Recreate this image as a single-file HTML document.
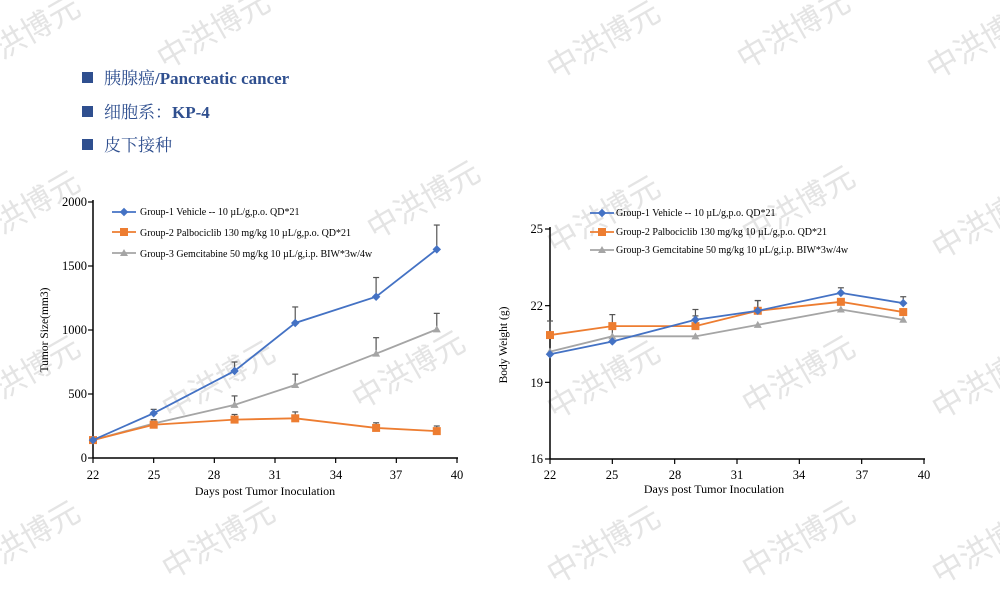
<!DOCTYPE html>
<html><head><meta charset="utf-8"><style>
html,body{margin:0;padding:0;background:#fff;}
body{width:1000px;height:562px;position:relative;overflow:hidden;font-family:"Liberation Serif","Noto Serif CJK SC",serif;}
.b{position:absolute;left:82px;color:#2f4f8f;font-size:17px;font-weight:bold;}
.b .sq{display:inline-block;width:11px;height:11px;background:#2f4f8f;margin-right:11px;vertical-align:1px;}
.b .cj{font-family:"Noto Serif CJK SC","Noto Sans CJK SC",serif;font-weight:normal;}
.wm{position:absolute;font-family:"Noto Sans CJK SC",sans-serif;font-size:31px;color:#e4e4e4;transform:rotate(-30deg);white-space:nowrap;}
svg{position:absolute;left:0;top:0;}
</style></head><body>
<div class="wm" style="left:-40px;top:10px">中洪博元</div>
<div class="wm" style="left:150px;top:5px">中洪博元</div>
<div class="wm" style="left:540px;top:15px">中洪博元</div>
<div class="wm" style="left:730px;top:5px">中洪博元</div>
<div class="wm" style="left:920px;top:15px">中洪博元</div>
<div class="wm" style="left:-40px;top:185px">中洪博元</div>
<div class="wm" style="left:360px;top:175px">中洪博元</div>
<div class="wm" style="left:540px;top:190px">中洪博元</div>
<div class="wm" style="left:735px;top:180px">中洪博元</div>
<div class="wm" style="left:925px;top:195px">中洪博元</div>
<div class="wm" style="left:-40px;top:350px">中洪博元</div>
<div class="wm" style="left:155px;top:355px">中洪博元</div>
<div class="wm" style="left:345px;top:345px">中洪博元</div>
<div class="wm" style="left:540px;top:355px">中洪博元</div>
<div class="wm" style="left:735px;top:350px">中洪博元</div>
<div class="wm" style="left:925px;top:355px">中洪博元</div>
<div class="wm" style="left:-40px;top:515px">中洪博元</div>
<div class="wm" style="left:155px;top:515px">中洪博元</div>
<div class="wm" style="left:540px;top:520px">中洪博元</div>
<div class="wm" style="left:735px;top:515px">中洪博元</div>
<div class="wm" style="left:925px;top:520px">中洪博元</div>

<div class="b" style="top:64px"><span class="sq"></span><span class="cj">胰腺癌</span>/Pancreatic cancer</div>
<div class="b" style="top:98px"><span class="sq"></span><span class="cj">细胞系：</span>KP-4</div>
<div class="b" style="top:131px"><span class="sq"></span><span class="cj">皮下接种</span></div>

<svg id="s" width="1000" height="562" font-family="Liberation Serif, serif" font-size="12">
<g fill="#000">
<text x="48" y="330" transform="rotate(-90 48 330)" font-size="11.5" text-anchor="middle">Tumor Size(mm3)</text>
<text x="265" y="495" text-anchor="middle" font-size="12">Days post Tumor Inoculation</text>
<text x="507" y="345" transform="rotate(-90 507 345)" font-size="11.5" text-anchor="middle">Body Weight (g)</text>
<text x="714" y="493" text-anchor="middle" font-size="12">Days post Tumor Inoculation</text>
<g text-anchor="end" font-size="12.5">
<text x="87" y="462">0</text><text x="87" y="398">500</text><text x="87" y="334">1000</text><text x="87" y="270">1500</text><text x="87" y="206">2000</text>
<text x="543" y="463">16</text><text x="543" y="387">19</text><text x="543" y="310">22</text><text x="543" y="233">25</text>
</g>
<g text-anchor="middle" font-size="12.5">
<text x="93" y="479">22</text><text x="154" y="479">25</text><text x="214" y="479">28</text><text x="275" y="479">31</text><text x="336" y="479">34</text><text x="396" y="479">37</text><text x="457" y="479">40</text>
<text x="550" y="479">22</text><text x="612" y="479">25</text><text x="675" y="479">28</text><text x="737" y="479">31</text><text x="799" y="479">34</text><text x="862" y="479">37</text><text x="924" y="479">40</text>
</g>
<g font-size="10">
<text x="140" y="215">Group-1 Vehicle -- 10 µL/g,p.o. QD*21</text>
<text x="140" y="236">Group-2 Palbociclib 130 mg/kg 10 µL/g,p.o. QD*21</text>
<text x="140" y="257">Group-3 Gemcitabine 50 mg/kg 10 µL/g,i.p. BIW*3w/4w</text>
<text x="616" y="216">Group-1 Vehicle -- 10 µL/g,p.o. QD*21</text>
<text x="616" y="235">Group-2 Palbociclib 130 mg/kg 10 µL/g,p.o. QD*21</text>
<text x="616" y="253">Group-3 Gemcitabine 50 mg/kg 10 µL/g,i.p. BIW*3w/4w</text>
</g>
</g>
<g id="g"></g>
</svg>
<script>
var g=document.getElementById('g'),h='';
function L(x1,y1,x2,y2,c,w){h+='<line x1="'+x1+'" y1="'+y1+'" x2="'+x2+'" y2="'+y2+'" stroke="'+c+'" stroke-width="'+(w||1)+'"/>';}
function mk(x,y,t,c){if(t==0)h+='<rect x="'+(x-3)+'" y="'+(y-3)+'" width="6" height="6" fill="'+c+'" transform="rotate(45 '+x+' '+y+')"/>';
 else if(t==1)h+='<rect x="'+(x-4)+'" y="'+(y-4)+'" width="8" height="8" fill="'+c+'"/>';
 else h+='<polygon points="'+x+','+(y-4)+' '+(x-4)+','+(y+3)+' '+(x+4)+','+(y+3)+'" fill="'+c+'"/>';}
var C=['#4472c4','#ed7d31','#a5a5a5'];
function chart(x0,x1,ymin,ymax,py0,py1,ticks,xt,data,err,lg){
 var X=function(d){return x0+(d-22)*(x1-x0)/18},Y=function(v){return py0+(v-ymin)*(py1-py0)/(ymax-ymin)};
 L(x0,py1-2,x0,py0+0.5,'#000',1.5);L(x0-0.5,py0,x1+1,py0,'#000',1.5);
 ticks.forEach(function(v){L(x0-5,Y(v),x0,Y(v),'#000',1.2)});
 for(var d=22;d<=40;d+=3)L(X(d),py0,X(d),py0+5,'#000',1.2);
 var days=[22,25,29,32,36,39];
 for(var s=0;s<3;s++){
  days.forEach(function(d,i){if(err[s][i]){var xe=X(d),yt=Y(err[s][i]);L(xe,Y(data[s][i]),xe,yt,'#555',1.2);L(xe-3,yt,xe+3,yt,'#555',1.2);}});
 }
 for(var s=2;s>=0;s--){
  var p=days.map(function(d,i){return X(d)+','+Y(data[s][i])}).join(' ');
  h+='<polyline points="'+p+'" fill="none" stroke="'+C[s]+'" stroke-width="1.8"/>';
  days.forEach(function(d,i){mk(X(d),Y(data[s][i]),s,C[s])});
 }
 lg.forEach(function(l,s){L(l[0],l[1],l[0]+24,l[1],C[s],1.8);mk(l[0]+12,l[1],s,C[s]);});
}
chart(93,457,0,2000,458,202,[0,500,1000,1500,2000],0,
 [[140,350,680,1055,1260,1630],[140,260,300,310,235,210],[140,270,415,570,815,1005]],
 [[0,380,750,1180,1410,1820],[0,290,340,360,275,250],[0,300,485,655,940,1130]],
 [[112,212],[112,232],[112,253]]);
chart(550,924,16,25,459,229,[16,19,22,25],0,
 [[20.1,20.6,21.45,21.8,22.5,22.1],[20.85,21.2,21.2,21.8,22.15,21.75],[20.2,20.8,20.8,21.25,21.85,21.45]],
 [[0,21.15,21.85,22.2,22.7,22.35],[21.4,21.65,21.6,22.2,0,0],[0,0,0,0,0,0]],
 [[590,213],[590,232],[590,250]]);
g.innerHTML=h;
</script>
</body></html>
